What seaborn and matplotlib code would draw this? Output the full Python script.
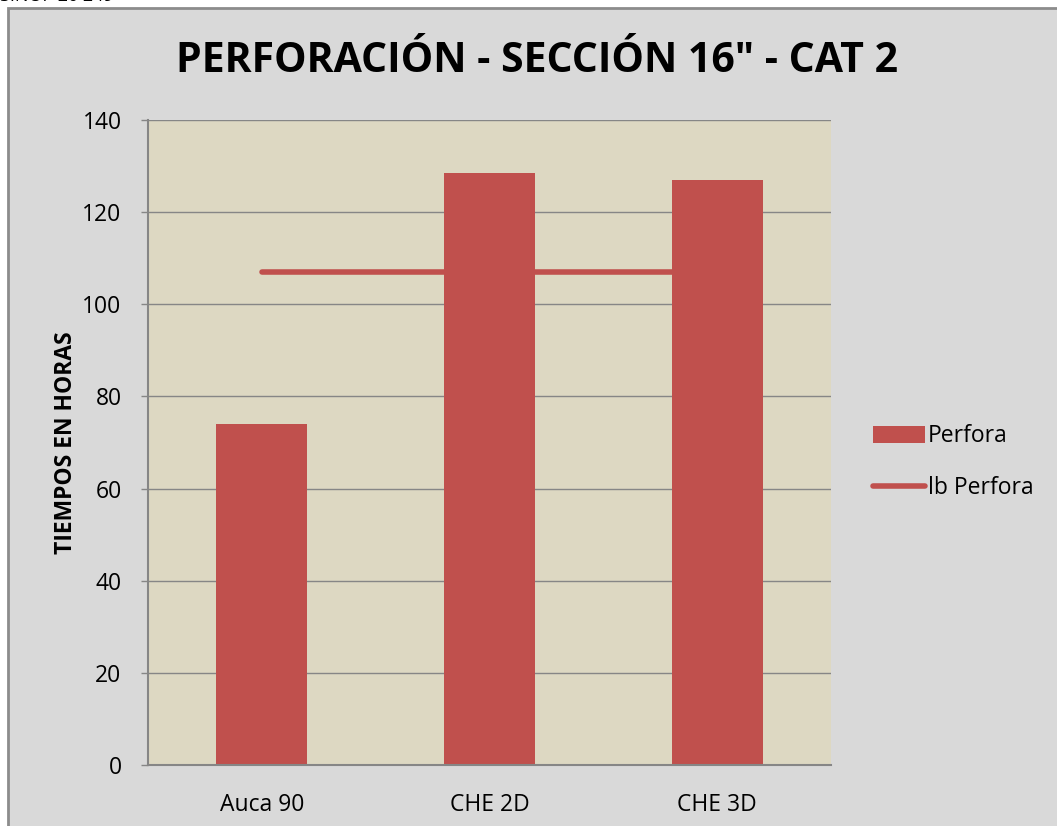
import matplotlib
matplotlib.use("Agg")
import matplotlib.pyplot as plt
import seaborn as sns
import pandas as pd
from matplotlib.patches import Rectangle, Patch
from matplotlib.lines import Line2D

# Drilling times per well, 16" section
categories = ["Auca 90", "CHE 2D", "CHE 3D"]
perfora = [74.0, 128.5, 127.0]
lb_perfora = [107.0, 107.0, 107.0]
y_ticks = [0, 20, 40, 60, 80, 100, 120, 140]

title = "PERFORACIÓN - SECCIÓN 16\" - CAT 2"
ylabel = "TIEMPOS EN HORAS"
header = "SINOP 20 249"

BAR = "#c0504d"
PLOT_BG = "#ddd8c2"
FIG_BG = "#d9d9d9"
GRID = "#868686"

sns.set_theme(style="white")
plt.rcParams["font.family"] = ["Open Sans", "DejaVu Sans"]
plt.rcParams.update({"text.color": "black", "axes.labelcolor": "black",
                     "xtick.color": "black", "ytick.color": "black"})

fig = plt.figure(figsize=(10.57, 8.26), dpi=100, facecolor="white")

# chart frame behind everything
fig.patches.append(Rectangle((8 / 1057, -0.1), 1.2, 1 - 8 / 826 + 0.1,
                             transform=fig.transFigure, facecolor=FIG_BG,
                             edgecolor="#8c8c8c", linewidth=2, zorder=-10))
fig.text(0.0, 1 - 5 / 826, header, fontsize=13, color="black",
         ha="left", va="bottom", clip_on=False)

ax = fig.add_axes([148 / 1057, 61 / 826, 683 / 1057, 645 / 826])
ax.set_zorder(1)
ax.set_facecolor(PLOT_BG)

df = pd.DataFrame({"Pozo": categories, "Perfora": perfora, "lb Perfora": lb_perfora})
sns.barplot(data=df, x="Pozo", y="Perfora", color=BAR, saturation=1,
            width=0.4, linewidth=0, edgecolor=BAR, ax=ax, zorder=3)
sns.lineplot(data=df, x="Pozo", y="lb Perfora", color=BAR, linewidth=4,
             ax=ax, zorder=2)

ax.set_ylim(0, 140)
ax.set_xlim(-0.5, 2.5)
ax.set_yticks(y_ticks)
ax.set_yticklabels([str(t) for t in y_ticks], fontsize=16.5)
ax.tick_params(axis="x", labelsize=16.5, length=0, pad=20)
ax.tick_params(axis="y", length=5, width=1, color=GRID, direction="out",
               left=True, pad=14)
ax.yaxis.grid(True, color=GRID, linewidth=1)
ax.set_axisbelow(True)
for side in ["top", "right"]:
    ax.spines[side].set_visible(False)
for side in ["left", "bottom"]:
    ax.spines[side].set_color(GRID)
    ax.spines[side].set_linewidth(1.5)
ax.spines["bottom"].set_zorder(5)
ax.set_xlabel("")
ax.set_ylabel(ylabel, fontsize=16.5, fontweight="bold", labelpad=3)

fig.text(537 / 1057, 1 - 62 / 826, title, fontsize=29.5, fontweight="bold",
         ha="center", va="center")

handles = [Patch(facecolor=BAR, edgecolor="none"),
           Line2D([0], [0], color=BAR, linewidth=4, solid_capstyle="round")]
fig.legend(handles, ["Perfora", "lb Perfora"], loc="center left",
           bbox_to_anchor=(852 / 1057, 1 - 462 / 826), frameon=False,
           fontsize=16.5, handlelength=2.3, handleheight=0.75,
           handletextpad=0.12, labelspacing=1.2)

fig.savefig("out.png", dpi=100, facecolor="white")
